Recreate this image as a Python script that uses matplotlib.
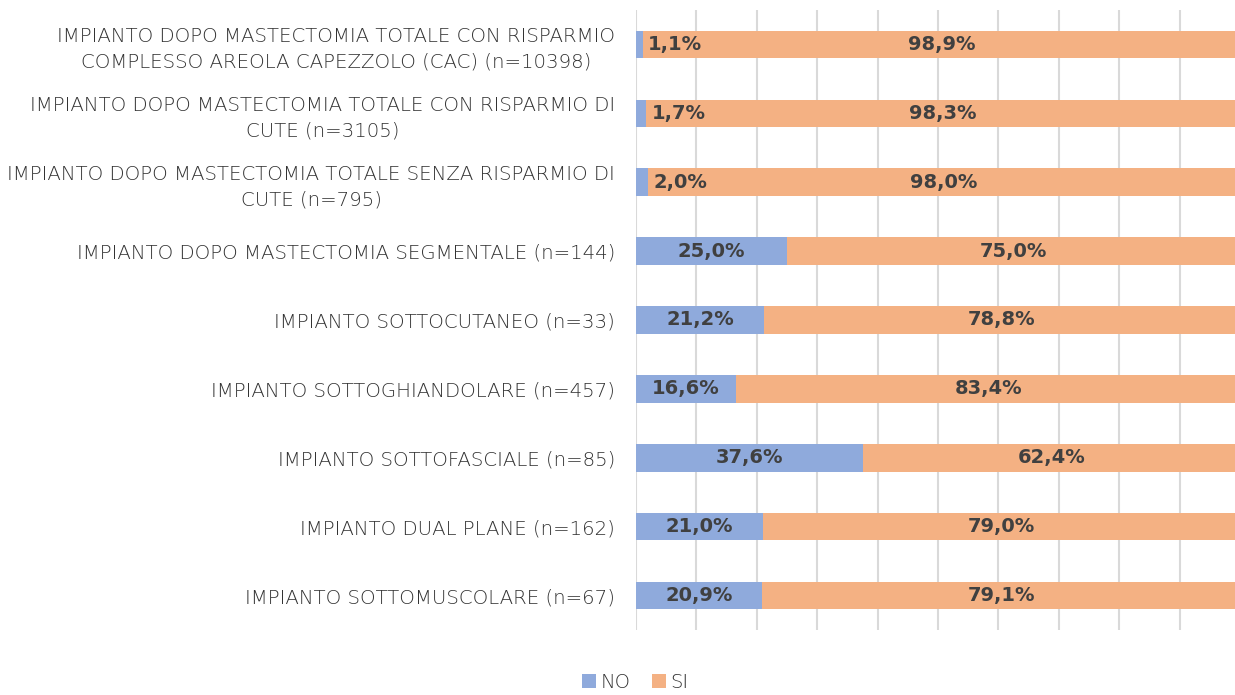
import matplotlib.pyplot as plt
import numpy as np

categorie = [
    "IMPIANTO DOPO MASTECTOMIA TOTALE CON RISPARMIO\nCOMPLESSO AREOLA CAPEZZOLO (CAC) (n=10398)",
    "IMPIANTO DOPO MASTECTOMIA TOTALE CON RISPARMIO DI\nCUTE (n=3105)",
    "IMPIANTO DOPO MASTECTOMIA TOTALE SENZA RISPARMIO DI\nCUTE (n=795)",
    "IMPIANTO DOPO MASTECTOMIA SEGMENTALE (n=144)",
    "IMPIANTO SOTTOCUTANEO (n=33)",
    "IMPIANTO SOTTOGHIANDOLARE (n=457)",
    "IMPIANTO SOTTOFASCIALE (n=85)",
    "IMPIANTO DUAL PLANE (n=162)",
    "IMPIANTO SOTTOMUSCOLARE (n=67)",
]
no_vals = [1.1, 1.7, 2.0, 25.0, 21.2, 16.6, 37.6, 21.0, 20.9]
si_vals = [98.9, 98.3, 98.0, 75.0, 78.8, 83.4, 62.4, 79.0, 79.1]

BLU = "#8FAADC"
ARANCIO = "#F4B183"
TESTO = "#404040"

def pct(v):
    return f"{v:.1f}%".replace(".", ",")

fig = plt.figure(figsize=(12.35, 6.95), dpi=100)
W, H = 1235, 695
ax = fig.add_axes([636 / W, 1 - 630 / H, (1240 - 636) / W, (630 - 10) / H])

y = np.arange(len(categorie))
no = np.array(no_vals)
si = np.array(si_vals)

ax.barh(y, no, height=0.4, color=BLU, label="NO", zorder=3)
ax.barh(y, si, left=no, height=0.4, color=ARANCIO, label="SI", zorder=3)

num_font = dict(fontsize=14, fontweight="bold", color=TESTO, family="DejaVu Sans", zorder=4)
for yi, n, s in zip(y, no, si):
    # small NO shares get their label just to the right of the bar
    if n < 5:
        ax.text(n + 0.9, yi, pct(n), ha="left", va="center", **num_font)
    else:
        ax.text(n / 2, yi, pct(n), ha="center", va="center", **num_font)
    ax.text(n + s / 2, yi, pct(s), ha="center", va="center", **num_font)

ax.set_xlim(0, 100)
ax.set_ylim(len(categorie) - 0.5, -0.5)
ax.set_xticks(np.arange(0, 101, 10))
ax.set_xticklabels([])
ax.tick_params(axis="x", length=0)
ax.xaxis.grid(True, color="#D9D9D9", linewidth=1.5, zorder=0)

ax.set_yticks(y)
ax.set_yticklabels(categorie, fontsize=14.2, color="#333333", family="DejaVu Sans",
                   fontweight="light", multialignment="center", linespacing=1.42)
ax.tick_params(axis="y", length=0, pad=15)

for side in ["top", "right", "bottom", "left"]:
    ax.spines[side].set_visible(False)

fig.legend(loc="center", bbox_to_anchor=(635 / W, 1 - 682 / H), ncol=2,
           frameon=False, handlelength=0.75, handleheight=0.75, handletextpad=0.2,
           columnspacing=1.1, prop={"family": "DejaVu Sans", "size": 14, "weight": "light"},
           labelcolor="#333333")

fig.savefig("out.png", dpi=100)
